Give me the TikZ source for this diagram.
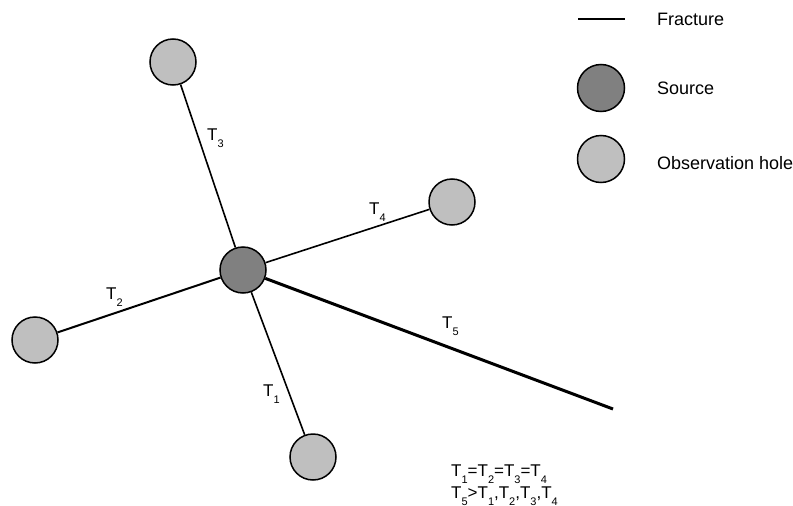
\documentclass[tikz,border=0pt]{standalone}
\usepackage{fontspec}
\setmainfont{Liberation Sans}
\newcommand{\Tx}[1]{T\raisebox{-7pt}{\fontsize{11}{11}\selectfont #1}}
\begin{document}
\begin{tikzpicture}[x=1pt,y=-1pt,
  hole/.style={circle,draw,line width=1.5pt,fill=black!25,minimum size=46pt,inner sep=0pt},
  src/.style={circle,draw,line width=1.5pt,fill=black!50,minimum size=46pt,inner sep=0pt},
  conn/.style={line width=1.6pt},
  frac/.style={line width=3pt},
  lbl/.style={font=\fontsize{17}{20}\selectfont,inner sep=0pt},
  leg/.style={font=\fontsize{18}{21}\selectfont,inner sep=0pt,anchor=west}]
\useasboundingbox (0,0) rectangle (793,506);
% fracture end
\coordinate (fe) at (613,409);
\node[src] (s) at (243,270) {};
\node[hole] (h3) at (173,62) {};
\node[hole] (h2) at (35,340) {};
\node[hole] (h1) at (313,457) {};
\node[hole] (h4) at (452,202) {};
\draw[conn] (s) -- (h3);
\draw[conn,line width=2pt] (s) -- (h2);
\draw[conn] (s) -- (h1);
\draw[conn] (s) -- (h4);
\draw[frac] (s) -- (fe);
% labels
\node[lbl,anchor=base west] (l3) at (207,140) {\Tx{3}};
\node[lbl,anchor=base west] (l2) at (106,299) {\Tx{2}};
\node[lbl,anchor=base west] (l1) at (263,396) {\Tx{1}};
\node[lbl,anchor=base west] (l4) at (369,214) {\Tx{4}};
\node[lbl,anchor=base west] (l5) at (442,328) {\Tx{5}};
% relations
\node[lbl,anchor=base west] (r1) at (451,476) {\Tx{1}=\Tx{2}=\Tx{3}=\Tx{4}};
\node[lbl,anchor=base west] (r2) at (451,498) {\Tx{5}>\Tx{1},\Tx{2},\Tx{3},\Tx{4}};
% legend
\coordinate (la) at (578,19);
\coordinate (lb) at (625,19);
\draw[line width=2.4pt] (la) -- (lb);
\node[leg] (lf) at (657,19) {Fracture};
\node[src,minimum size=47pt] (ls) at (601,88) {};
\node[leg] (lst) at (657,88) {Source};
\node[hole,minimum size=47pt] (lh) at (601,159) {};
\node[leg] (lht) at (657,163) {Observation hole};
\end{tikzpicture}
\end{document}
